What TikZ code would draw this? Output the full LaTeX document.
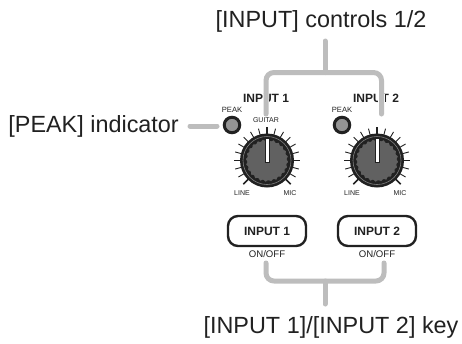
\documentclass[tikz,border=0pt]{standalone}
\usepackage{fontspec}
\setmainfont{Liberation Sans}
\usetikzlibrary{calc}
\definecolor{leader}{gray}{0.74}
\definecolor{capgrey}{gray}{0.38}
\definecolor{ledgrey}{gray}{0.58}
\definecolor{ink}{gray}{0.13}
\tikzset{
  leaderline/.style={draw=leader,line width=5pt,line cap=round,line join=round,rounded corners=8pt},
  halo/.style={draw=white,line width=6.5pt,line cap=butt},
  callout/.style={font=\fontsize{23.4}{25}\selectfont,text=ink,inner sep=0pt},
  chlabel/.style={font=\fontsize{12}{13}\bfseries\selectfont,text=ink,inner sep=0pt},
  tiny/.style={font=\fontsize{7.6}{8}\selectfont,text=ink,inner sep=0pt},
  smalltiny/.style={font=\fontsize{7}{8}\selectfont,text=ink,inner sep=0pt},
  keybox/.style={draw=ink,line width=2.4pt,rounded corners=10pt,minimum width=78pt,minimum height=30pt,inner sep=0pt,font=\fontsize{12}{13}\bfseries\selectfont,text=ink,fill=white},
  onoff/.style={font=\fontsize{9.6}{10}\selectfont,text=ink,inner sep=0pt},
  led/.style={circle,draw=ink,line width=3pt,fill=ledgrey,minimum size=15.5pt,inner sep=0pt}
}
% One level control: scale ticks, ribbed cap and pointer
\newcommand{\levelknob}[2]{%
  \begin{scope}[shift={(#1,#2)}]
    \foreach \a in {-120,-105,...,120}
      \draw[ink,line width=0.9pt] (270-\a:26) -- (270-\a:33);
    \foreach \a in {-135,135,0}
      \draw[ink,line width=1.6pt] (270-\a:26) -- (270-\a:33.5);
    \fill[ink] (0,0) circle (27);
    \draw[gray,line width=0.6pt] (0,0) circle (24);
    \fill[capgrey,draw=ink,line width=0.9pt] plot[domain=0:360,samples=145] (\x:{21+0.8*sin(24*\x)}) -- cycle;
    \fill[white,draw=ink,line width=0.5pt] (-2,-22) rectangle (2,2);
  \end{scope}}
\begin{document}
\begin{tikzpicture}[x=1pt,y=-1pt]
  \useasboundingbox (0,0) rectangle (462,343);
  \fill[white] (0,0) rectangle (462,343);

  % Front panel: channel captions, indicators, knobs and keys
  \node[chlabel] (in1) at (266,98) {INPUT 1};
  \node[chlabel] (in2) at (376,98) {INPUT 2};
  \node[tiny] (peak1) at (232,110) {PEAK};
  \node[tiny] (peak2) at (342,110) {PEAK};
  \node[smalltiny] (guitar) at (266,120.5) {GUITAR};
  \node[led] (led1) at (232,125) {};
  \node[led] (led2) at (342,125) {};
  \levelknob{267}{160.5}
  \levelknob{377}{160.5}
  \node[smalltiny] (line1) at (242,193) {LINE};
  \node[smalltiny] (mic1) at (290,193) {MIC};
  \node[smalltiny] (line2) at (352,193) {LINE};
  \node[smalltiny] (mic2) at (400,193) {MIC};
  \node[keybox] (key1) at (267,231) {INPUT 1};
  \node[keybox] (key2) at (377,231) {INPUT 2};
  \node[onoff] (on1) at (267,254) {ON/OFF};
  \node[onoff] (on2) at (377,254) {ON/OFF};

  % Callout texts
  \node[callout,anchor=base] (ctl) at (321,27) {[INPUT] controls 1/2};
  \node[callout,anchor=base east] (pk) at (179,132) {[PEAK] indicator};
  \node[callout,anchor=base] (keys) at (331,333) {[INPUT 1]/[INPUT 2] key};

  % Leader end points
  \coordinate (ctlstem) at (325,41);
  \coordinate (ctljoin) at (325,72.5);
  \coordinate (ctll) at (266,114);
  \coordinate (ctlr) at (381.5,114);
  \coordinate (keyl) at (266,263);
  \coordinate (keyr) at (384,263);
  \coordinate (keyjoin) at (325,281);
  \coordinate (keystem) at (325,304);
  \coordinate (pkstart) at (190,126);
  \coordinate (pkend) at (217,126);

  % Leaders to the controls, cutting through the captions
  \draw[halo] (ctll) -- (ctll |- in1.north);
  \draw[halo] (ctlr) -- (ctlr |- in2.north);
  \draw[leaderline] (ctll) -- (ctll |- ctljoin) -- (ctlr |- ctljoin) -- (ctlr);
  \draw[leaderline] (ctlstem) -- (ctljoin);
  \draw[leaderline] (keyl) -- (keyl |- keyjoin) -- (keyr |- keyjoin) -- (keyr);
  \draw[leaderline] (keyjoin) -- (keystem);
  \draw[leaderline] (pkstart) -- (pkend);
\end{tikzpicture}
\end{document}
